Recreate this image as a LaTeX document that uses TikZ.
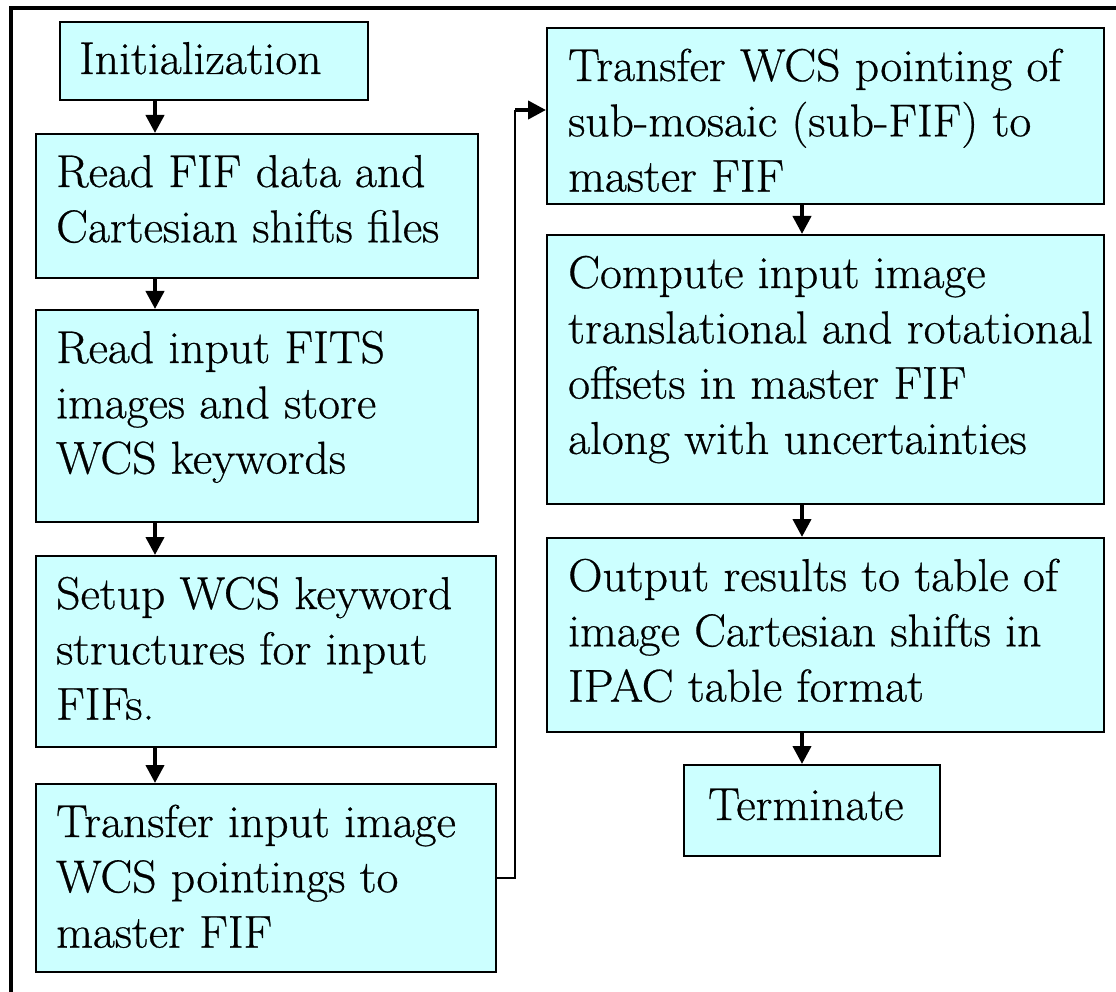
\documentclass[tikz,border=0pt]{standalone}
\usepackage{fontspec}
\newfontfamily\timesfont{Latin Modern Roman}[FakeStretch=1.035,FakeBold=0.6]
\usetikzlibrary{arrows.meta}
\definecolor{boxfill}{HTML}{CCFFFF}
\tikzset{
  box/.style={draw=black, line width=2pt, fill=boxfill, rectangle, inner sep=0pt, anchor=north west},
  txt/.style={inner sep=0pt, anchor=base west, font=\timesfont\fontsize{46}{55}\selectfont, text=black},
  arr/.style={line width=4pt, -{Triangle[width=18pt,length=18pt]}},
  conn/.style={line width=2pt},
  frame/.style={line width=4pt}
}
\newcommand\flowbox[7]{%
  \node[box, minimum width=#4pt, minimum height=#5pt] (#1) at (#2,#3) {};
  \foreach \l [count=\i] in {#7}
    \node[txt] (#1-t\i) at ({#2+#6},{#3+54+55.3*(\i-1)}) {\l};
}
\begin{document}
\begin{tikzpicture}[x=1pt,y=-1pt]
\useasboundingbox (0,0) rectangle (1116,992);
% outer frame (only top and left visible)
\draw[frame] (11,1010) -- (11,8) -- (1130,8);
% left column
\node[box, minimum width=308pt, minimum height=78pt] (init) at (59,21) {};
\node[txt] (init-t) at (79,74) {Initialization};
\flowbox{b2}{35}{133}{442}{144}{21}{{Read FIF data and},{Cartesian shifts files}}
\flowbox{b3}{35}{309}{442}{212}{21}{{Read input FITS},{images and store},{WCS keywords}}
\flowbox{b4}{35}{555}{460}{191}{21}{{Setup WCS keyword},{structures for input},{FIFs.}}
\flowbox{b5}{35}{783}{460}{188}{21}{{Transfer input image},{WCS pointings to},{master FIF}}
% right column
\flowbox{b6}{546}{27}{557}{176}{22}{{Transfer WCS pointing of},{sub-mosaic (sub-FIF) to},{master FIF}}
\flowbox{b7}{546}{234}{557}{269}{22}{{Compute input image},{translational and rotational},{offsets in master FIF},{along with uncertainties}}
\flowbox{b8}{546}{537}{557}{194}{22}{{Output results to table of},{image Cartesian shifts in},{IPAC table format}}
\node[box, minimum width=256pt, minimum height=91pt] (term) at (683,764) {};
\node[txt] (term-t) at (708,820) {Terminate};
% connector columns
\coordinate (colL) at (155,0);
\coordinate (colR) at (802,0);
\coordinate (jog) at (515,110);
\draw[arr] (init.south -| colL) -- (b2.north -| colL);
\draw[arr] (b2.south -| colL) -- (b3.north -| colL);
\draw[arr] (b3.south -| colL) -- (b4.north -| colL);
\draw[arr] (b4.south -| colL) -- (b5.north -| colL);
\draw[arr] (b6.south -| colR) -- (b7.north -| colR);
\draw[arr] (b7.south -| colR) -- (b8.north -| colR);
\draw[arr] (b8.south -| colR) -- (term.north -| colR);
\draw[conn] (b5.east) -| (jog);
\draw[arr] (jog) -- (b6.west |- jog);
\end{tikzpicture}
\end{document}
